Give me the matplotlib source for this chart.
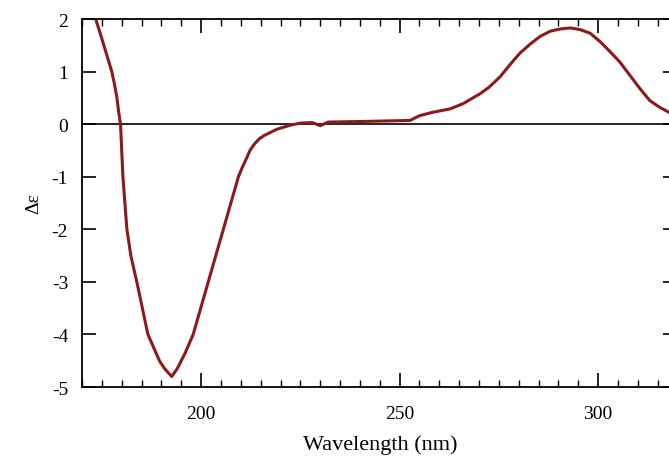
import matplotlib
matplotlib.use("Agg")
import matplotlib.pyplot as plt
from matplotlib.ticker import MultipleLocator

# ================== DATA ==================
wavelength = [173.0, 174.5, 175.5, 176.5, 177.5, 178.2, 178.8, 179.2, 179.7,
              180.3, 181.3, 182.3, 183.8, 186.6, 189.5, 190.8, 192.6, 194.0,
              196.0, 198.0, 201.8, 205.6, 209.4, 210.5, 211.5, 212.3, 213.5,
              214.8, 216.0, 217.4, 219.0, 222.4, 225.0, 228.0, 230.0, 232.0,
              240.0, 246.0, 252.6, 255.0, 258.0, 262.7, 266.0, 270.3, 272.5,
              275.3, 278.0, 280.3, 283.0, 285.4, 288.0, 290.4, 293.0, 295.4,
              298.0, 300.5, 303.0, 305.5, 308.0, 310.5, 313.0, 315.5, 318.0,
              320.0]
delta_eps = [2.1, 1.75, 1.5, 1.25, 1.0, 0.75, 0.5, 0.25, 0.0,
             -1.0, -2.0, -2.5, -3.0, -4.0, -4.5, -4.65, -4.8, -4.65,
             -4.35, -4.0, -3.0, -2.0, -1.0, -0.8, -0.64, -0.5, -0.37,
             -0.27, -0.21, -0.16, -0.1, -0.02, 0.02, 0.03, -0.03, 0.04,
             0.05, 0.06, 0.07, 0.16, 0.22, 0.29, 0.39, 0.58, 0.7,
             0.9, 1.15, 1.35, 1.53, 1.67, 1.77, 1.81, 1.83, 1.80,
             1.73, 1.57, 1.38, 1.18, 0.93, 0.68, 0.45, 0.32, 0.22,
             0.15]

X_TICKS = [200, 250, 300]
Y_TICKS = [-5, -4, -3, -2, -1, 0, 1, 2]

# ================== PLOT ==================
plt.rcParams["font.family"] = ["Liberation Serif", "DejaVu Serif"]
plt.rcParams["axes.unicode_minus"] = False

fig = plt.figure(figsize=(6.69, 4.60), dpi=100)
ax = fig.add_axes([0.1226, 0.1565, 0.8901, 0.8])

ax.axhline(0, color="black", lw=1.2, zorder=1)
ax.plot(wavelength, delta_eps, color="#8b1a1a", lw=2.2, zorder=2,
        solid_joinstyle="round")

ax.set_xlim(170, 320)
ax.set_ylim(-5, 2)
ax.set_xticks(X_TICKS)
ax.set_yticks(Y_TICKS)
ax.xaxis.set_minor_locator(MultipleLocator(5))

ax.tick_params(axis="x", which="major", direction="in", top=True, bottom=True,
               length=10, width=1.2, pad=13, labelsize=14)
ax.tick_params(axis="x", which="minor", direction="in", top=True, bottom=True,
               length=5, width=1.0)
ax.tick_params(axis="y", which="major", direction="in", left=True, right=True,
               length=10, width=1.2, pad=10, labelsize=14)

for s in ax.spines.values():
    s.set_linewidth(1.3)

ax.set_xlabel("Wavelength (nm)", fontsize=16, labelpad=9)
ax.set_ylabel("Δε", fontsize=14, labelpad=7)

fig.savefig("out.png", dpi=100)
